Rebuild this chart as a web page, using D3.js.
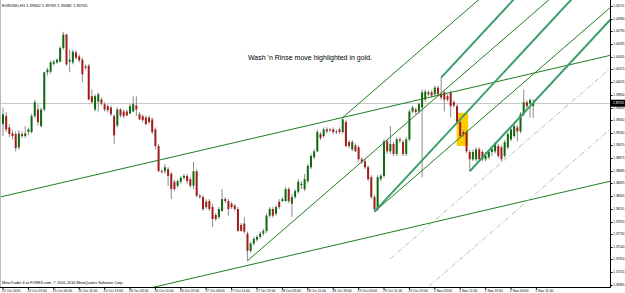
<!DOCTYPE html>
<html>
<head>
<meta charset="utf-8">
<script src="https://cdn.jsdelivr.net/npm/d3@7"></script>
<style>
  body { margin: 0; background: #fff; }
  text { font-family: "Liberation Sans", Arial, sans-serif; }
</style>
</head>
<body>
<svg id="chart" width="625" height="293"></svg>
<script>
// EURUSD H1 candles: [open, high, low, close]
const ohlc = [
  [1.3939,1.3964,1.3921,1.3954],[1.3951,1.3957,1.3927,1.3931],[1.3934,1.3939,1.3919,1.3924],[1.3925,1.3930,1.3916,1.3921],
  [1.3924,1.3928,1.3898,1.3903],[1.3904,1.3930,1.3901,1.3925],[1.3924,1.3928,1.3918,1.3921],[1.3921,1.3936,1.3918,1.3925],
  [1.3927,1.3934,1.3922,1.3931],[1.3927,1.3955,1.3925,1.3951],[1.3951,1.3976,1.3948,1.3972],[1.3961,1.3969,1.3937,1.3942],
  [1.3936,1.3964,1.3934,1.3961],[1.3961,1.4018,1.3958,1.4017],[1.4017,1.4024,1.4012,1.4021],[1.4018,1.4035,1.4015,1.4032],
  [1.4030,1.4036,1.4027,1.4033],[1.4032,1.4038,1.4030,1.4036],[1.4033,1.4056,1.4032,1.4054],[1.4054,1.4078,1.4051,1.4074],
  [1.4074,1.4075,1.4027,1.4029],[1.4033,1.4051,1.4017,1.4036],[1.4032,1.4051,1.4029,1.4048],[1.4047,1.4050,1.4036,1.4039],
  [1.4041,1.4044,1.4032,1.4035],[1.4036,1.4039,1.4002,1.4014],[1.4026,1.4029,1.4021,1.4024],[1.4027,1.4030,1.3975,1.3976],
  [1.3981,1.3991,1.3970,1.3972],[1.3961,1.3984,1.3958,1.3981],[1.3973,1.3987,1.3958,1.3984],[1.3976,1.3979,1.3967,1.3970],
  [1.3969,1.3972,1.3958,1.3961],[1.3966,1.3969,1.3957,1.3960],[1.3964,1.3967,1.3951,1.3954],[1.3951,1.3954,1.3909,1.3922],
  [1.3937,1.3964,1.3934,1.3961],[1.3961,1.3963,1.3949,1.3952],[1.3958,1.3961,1.3948,1.3951],[1.3958,1.3961,1.3951,1.3952],
  [1.3955,1.3969,1.3954,1.3966],[1.3958,1.3981,1.3957,1.3969],[1.3967,1.3981,1.3951,1.3961],[1.3954,1.3957,1.3945,1.3946],
  [1.3951,1.3954,1.3942,1.3945],[1.3949,1.3952,1.3937,1.3939],[1.3949,1.3952,1.3940,1.3942],[1.3946,1.3949,1.3924,1.3927],
  [1.3931,1.3934,1.3901,1.3906],[1.3906,1.3909,1.3867,1.3868],[1.3868,1.3871,1.3865,1.3867],[1.3868,1.3879,1.3864,1.3874],
  [1.3871,1.3874,1.3846,1.3861],[1.3864,1.3867,1.3826,1.3841],[1.3852,1.3855,1.3838,1.3841],[1.3846,1.3856,1.3843,1.3853],
  [1.3852,1.3861,1.3849,1.3858],[1.3858,1.3864,1.3855,1.3861],[1.3861,1.3864,1.3849,1.3853],[1.3856,1.3859,1.3843,1.3846],
  [1.3846,1.3882,1.3841,1.3868],[1.3868,1.3871,1.3828,1.3831],[1.3831,1.3834,1.3826,1.3829],[1.3829,1.3832,1.3808,1.3811],
  [1.3822,1.3826,1.3811,1.3814],[1.3823,1.3826,1.3808,1.3811],[1.3814,1.3819,1.3784,1.3796],[1.3802,1.3805,1.3793,1.3796],
  [1.3799,1.3814,1.3796,1.3811],[1.3808,1.3841,1.3807,1.3826],[1.3826,1.3829,1.3820,1.3823],[1.3823,1.3826,1.3801,1.3811],
  [1.3819,1.3822,1.3811,1.3814],[1.3816,1.3819,1.3808,1.3811],[1.3811,1.3814,1.3777,1.3778],[1.3787,1.3790,1.3777,1.3778],
  [1.3789,1.3799,1.3774,1.3777],[1.3774,1.3777,1.3733,1.3748],[1.3748,1.3762,1.3745,1.3759],[1.3759,1.3769,1.3756,1.3766],
  [1.3765,1.3772,1.3762,1.3769],[1.3769,1.3777,1.3766,1.3774],[1.3774,1.3781,1.3771,1.3778],[1.3778,1.3804,1.3775,1.3801],
  [1.3801,1.3814,1.3798,1.3811],[1.3811,1.3814,1.3798,1.3801],[1.3804,1.3817,1.3801,1.3814],[1.3822,1.3826,1.3811,1.3814],
  [1.3823,1.3829,1.3822,1.3826],[1.3823,1.3844,1.3822,1.3841],[1.3841,1.3844,1.3820,1.3823],[1.3819,1.3834,1.3799,1.3829],
  [1.3829,1.3841,1.3826,1.3838],[1.3837,1.3856,1.3834,1.3852],[1.3847,1.3853,1.3841,1.3849],[1.3841,1.3864,1.3838,1.3856],
  [1.3853,1.3879,1.3850,1.3876],[1.3874,1.3894,1.3871,1.3891],[1.3889,1.3901,1.3886,1.3898],[1.3898,1.3931,1.3897,1.3927],
  [1.3924,1.3927,1.3915,1.3918],[1.3921,1.3934,1.3918,1.3931],[1.3931,1.3934,1.3925,1.3928],[1.3931,1.3933,1.3927,1.3930],
  [1.3931,1.3934,1.3924,1.3927],[1.3928,1.3931,1.3924,1.3927],[1.3931,1.3934,1.3924,1.3927],[1.3927,1.3949,1.3924,1.3946],
  [1.3942,1.3945,1.3904,1.3906],[1.3912,1.3915,1.3903,1.3906],[1.3901,1.3915,1.3898,1.3912],[1.3907,1.3910,1.3897,1.3898],
  [1.3904,1.3907,1.3883,1.3886],[1.3886,1.3889,1.3879,1.3882],[1.3883,1.3886,1.3871,1.3874],[1.3874,1.3877,1.3853,1.3856],
  [1.3859,1.3862,1.3826,1.3829],[1.3829,1.3832,1.3807,1.3811],[1.3811,1.3862,1.3808,1.3859],[1.3856,1.3864,1.3853,1.3861],
  [1.3861,1.3916,1.3858,1.3913],[1.3913,1.3916,1.3894,1.3898],[1.3898,1.3936,1.3894,1.3909],[1.3909,1.3912,1.3891,1.3894],
  [1.3894,1.3919,1.3891,1.3916],[1.3916,1.3919,1.3911,1.3914],[1.3912,1.3915,1.3891,1.3894],[1.3894,1.3919,1.3891,1.3916],
  [1.3916,1.3961,1.3913,1.3958],[1.3958,1.3967,1.3955,1.3964],[1.3961,1.3964,1.3954,1.3957],[1.3958,1.3972,1.3955,1.3969],
  [1.3964,1.3991,1.3859,1.3987],[1.3976,1.3991,1.3973,1.3988],[1.3984,1.3990,1.3981,1.3987],[1.3987,1.3990,1.3979,1.3982],
  [1.3984,1.3997,1.3981,1.3994],[1.3994,1.3997,1.3981,1.3984],[1.3984,1.4009,1.3976,1.3979],[1.3987,1.3990,1.3958,1.3976],
  [1.3981,1.3984,1.3973,1.3976],[1.3987,1.3990,1.3949,1.3966],[1.3972,1.3975,1.3964,1.3967],[1.3966,1.3969,1.3939,1.3942],
  [1.3942,1.3945,1.3918,1.3921],[1.3927,1.3930,1.3919,1.3924],[1.3927,1.3930,1.3895,1.3898],[1.3897,1.3900,1.3868,1.3886],
  [1.3886,1.3901,1.3883,1.3897],[1.3886,1.3904,1.3883,1.3901],[1.3901,1.3904,1.3883,1.3886],[1.3897,1.3900,1.3883,1.3886],
  [1.3886,1.3897,1.3883,1.3891],[1.3889,1.3900,1.3886,1.3897],[1.3897,1.3904,1.3891,1.3901],[1.3898,1.3912,1.3895,1.3909],
  [1.3906,1.3909,1.3888,1.3891],[1.3904,1.3907,1.3883,1.3886],[1.3891,1.3915,1.3888,1.3912],[1.3904,1.3927,1.3901,1.3924],
  [1.3916,1.3934,1.3913,1.3931],[1.3921,1.3939,1.3918,1.3936],[1.3934,1.3937,1.3913,1.3928],[1.3928,1.3957,1.3925,1.3954],
  [1.3954,1.3991,1.3951,1.3972],[1.3972,1.3975,1.3963,1.3966],[1.3970,1.3978,1.3949,1.3975],[1.39662,1.39769,1.39482,1.39705]
];

const symbolInfo = "EURUSD,H1  1.39662 1.39769 1.39482 1.39705";
const lastPrice = 1.39705;

const priceTicks = [1.41170, 1.40980, 1.40790, 1.40595, 1.40405, 1.40215, 1.40025, 1.39830,
  1.39640, 1.39450, 1.39260, 1.39070, 1.38875, 1.38685, 1.38495, 1.38305, 1.38110, 1.37920,
  1.37730, 1.37540, 1.37350, 1.37155, 1.36965];

const dateLabels = ["22 Oct 2010", "22 Oct 19:00", "25 Oct 03:00", "25 Oct 11:00", "25 Oct 19:00",
  "26 Oct 03:00", "26 Oct 11:00", "26 Oct 19:00", "27 Oct 03:00", "27 Oct 11:00", "27 Oct 19:00",
  "28 Oct 03:00", "28 Oct 11:00", "28 Oct 19:00", "29 Oct 03:00", "29 Oct 11:00", "29 Oct 19:00",
  "1 Nov 03:00", "1 Nov 11:00", "1 Nov 19:00", "2 Nov 03:00", "2 Nov 11:00"];
const barsPerLabel = 8;

// drawn objects, as [bar index, price]
const channel = { p1: [-1, 1.3829], p2: [107, 1.3949], p3: [77, 1.3726] };
const fork1 = { a: [77, 1.3733], b: [107, 1.3949], c: [117, 1.3807] };
const fork2 = { a: [117, 1.3807], b: [138, 1.4009], c: [147, 1.3868] };
const goldBox = { from: 142.9, to: 146.5, top: 1.3956, bottom: 1.3906 };

const note = "Wash 'n Rinse move highlighted in gold.";
const copyright = "MetaTrader 4 at FOREX.com, \u00a9 2001-2010 MetaQuotes Software Corp.";

let svg = d3.select("#chart"),
    plot = {left: 0, right: 610, top: 0, bottom: 287};

let x = d3.scaleLinear().domain([0, 168]).range([3, 536.4]),
    y = d3.scaleLinear().domain([priceTicks[priceTicks.length - 1], priceTicks[0]]).range([285, 6]);

svg.append("rect").attr("width", 625).attr("height", 293).attr("fill", "#fff");

svg.append("defs").append("clipPath").attr("id", "plotclip")
  .append("rect")
  .attr("x", plot.left).attr("y", plot.top)
  .attr("width", plot.right - plot.left).attr("height", plot.bottom - plot.top);

let g = svg.append("g").attr("clip-path", "url(#plotclip)");

// gold highlight behind the bars
g.append("rect")
  .attr("x", x(goldBox.from))
  .attr("width", x(goldBox.to) - x(goldBox.from))
  .attr("y", y(goldBox.top))
  .attr("height", y(goldBox.bottom) - y(goldBox.top))
  .attr("fill", "#ffcc00");

// last price line
g.append("line")
  .attr("x1", plot.left).attr("x2", plot.right)
  .attr("y1", Math.round(y(lastPrice)) + 0.5).attr("y2", Math.round(y(lastPrice)) + 0.5)
  .attr("stroke", "#c8c8c8");

// candles
let candle = g.selectAll(".candle")
  .data(ohlc)
  .enter()
  .append("g")
  .attr("class", "candle");

candle.append("line")
  .attr("x1", (d, i) => x(i)).attr("x2", (d, i) => x(i))
  .attr("y1", d => y(d[1])).attr("y2", d => y(d[2]))
  .attr("stroke", "#8c8c8c");

candle.append("rect")
  .attr("x", (d, i) => x(i) - 1)
  .attr("width", 2)
  .attr("y", d => y(Math.max(d[0], d[3])))
  .attr("height", d => Math.max(1, Math.abs(y(d[0]) - y(d[3]))))
  .attr("fill", d => d[3] >= d[0] ? "#0f6a0f" : "#a31c1c");

// trend objects
let line = d3.line().x(d => x(d[0])).y(d => y(d[1]));
const farBar = 220;

function through(p, slope, from, to) {
  return [[from, p[1] + slope * (from - p[0])], [to, p[1] + slope * (to - p[0])]];
}

function pitchfork(f) {
  let mid = [(f.b[0] + f.c[0]) / 2, (f.b[1] + f.c[1]) / 2];
  let slope = (mid[1] - f.a[1]) / (mid[0] - f.a[0]);
  return {
    slope: slope,
    mid: mid,
    lines: [f.a, f.b, f.c].map(p => through(p, slope, p[0], farBar))
  };
}

let chSlope = (channel.p2[1] - channel.p1[1]) / (channel.p2[0] - channel.p1[0]);
[channel.p1, channel.p3].forEach(p => {
  g.append("path")
    .attr("d", line(through(p, chSlope, -5, farBar)))
    .attr("fill", "none").attr("stroke", "#1f7d1f").attr("stroke-width", 1);
});

let pf1 = pitchfork(fork1);
pf1.lines.forEach(l => {
  g.append("path").attr("d", line(l))
    .attr("fill", "none").attr("stroke", "#1f7d1f").attr("stroke-width", 1);
});
// warning lines beyond the lower tine
[1, 2].forEach(k => {
  let p = [fork1.c[0] + k * (fork1.c[0] - pf1.mid[0]), fork1.c[1] + k * (fork1.c[1] - pf1.mid[1])];
  g.append("path").attr("d", line(through(p, pf1.slope, p[0], farBar)))
    .attr("fill", "none").attr("stroke", "#9fc8b0").attr("stroke-width", 1)
    .attr("stroke-dasharray", "5,2,1,2");
});

let pf2 = pitchfork(fork2);
pf2.lines.forEach(l => {
  g.append("path").attr("d", line(l))
    .attr("fill", "none").attr("stroke", "#3c9e6c").attr("stroke-width", 2);
});

// frame and axes
svg.append("line").attr("x1", 0.5).attr("x2", 0.5).attr("y1", 0).attr("y2", plot.bottom)
  .attr("stroke", "#bbb");
svg.append("line").attr("x1", plot.right + 0.5).attr("x2", plot.right + 0.5)
  .attr("y1", 0).attr("y2", plot.bottom + 0.5).attr("stroke", "#000");
svg.append("line").attr("x1", 0).attr("x2", plot.right + 0.5)
  .attr("y1", plot.bottom + 0.5).attr("y2", plot.bottom + 0.5).attr("stroke", "#000");

let pTicks = svg.append("g").selectAll("g")
  .data(priceTicks)
  .enter()
  .append("g")
  .attr("transform", d => "translate(" + (plot.right + 0.5) + "," + Math.round(y(d)) + ")");
pTicks.append("line").attr("x1", 0).attr("x2", 2).attr("y1", 0.5).attr("y2", 0.5).attr("stroke", "#000");
pTicks.append("text")
  .attr("x", 2.8).attr("dy", "0.35em")
  .style("font-size", "3.1px")
  .attr("fill", "#000")
  .text(d => d.toFixed(5));

// current price tag
let tag = svg.append("g").attr("transform", "translate(" + (plot.right + 1) + "," + y(lastPrice) + ")");
tag.append("rect").attr("x", 0).attr("y", -3.5).attr("width", 14).attr("height", 7).attr("fill", "#000");
tag.append("text").attr("x", 1.8).attr("dy", "0.35em").style("font-size", "3.1px")
  .attr("fill", "#fff").text(lastPrice.toFixed(5));

let dTicks = svg.append("g").selectAll("g")
  .data(dateLabels)
  .enter()
  .append("g")
  .attr("transform", (d, i) => "translate(" + x(i * barsPerLabel) + "," + (plot.bottom + 0.5) + ")");
dTicks.append("line").attr("x1", 0).attr("x2", 0).attr("y1", 0).attr("y2", 2).attr("stroke", "#000");
dTicks.append("text")
  .attr("x", -1).attr("y", 4.8)
  .style("font-size", "3.4px")
  .attr("fill", "#000")
  .text(d => d);

svg.append("text").attr("x", 2).attr("y", 6.5).style("font-size", "4px").attr("fill", "#000").text(symbolInfo);
svg.append("text").attr("x", 2).attr("y", 284).style("font-size", "3.8px").attr("fill", "#000").text(copyright);
svg.append("text").attr("x", 248).attr("y", 60).style("font-size", "7px").attr("fill", "#000").text(note);
</script>
</body>
</html>
